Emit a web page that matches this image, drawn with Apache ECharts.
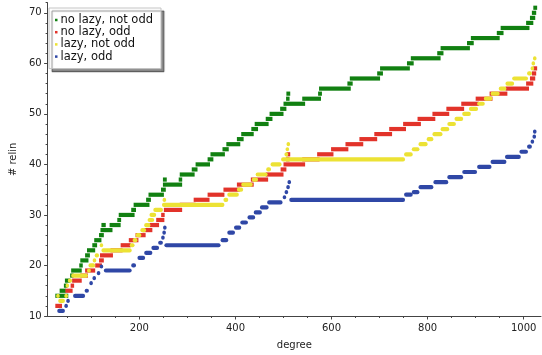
<!DOCTYPE html>
<html><head><meta charset="utf-8">
<script src="https://cdn.jsdelivr.net/npm/echarts@6/dist/echarts.min.js"></script>
<style>html,body{margin:0;padding:0;background:#fff}#c{width:542px;height:355px}</style>
</head><body><div id="c"></div>
<script>
// Each run: [first degree, last degree, # relin]
const seriesNames = ['no lazy, not odd', 'no lazy, odd', 'lazy, not odd', 'lazy, odd'];

const noLazyNotOdd = [
  [25,52,14],[34,47,15],[43,50,16],[45,56,17],[56,63,18],[58,80,19],[75,82,20],[77,94,21],
  [87,97,22],[91,108,23],[102,112,24],[106,121,25],[116,126,26],[119,144,27],[121,130,28],[138,161,28],
  [154,162,29],[157,190,30],[183,193,31],[188,221,32],[214,224,33],[219,251,34],[245,255,35],[249,289,36],
  [249,257,37],[282,289,37],[284,315,38],[309,321,39],[317,347,40],[342,354,41],[348,378,42],[373,386,43],
  [381,410,44],[403,417,45],[412,438,46],[433,447,47],[440,469,48],[463,477,49],[471,500,50],[493,506,51],
  [500,545,52],[506,512,53],[539,578,53],[506,514,54],[572,580,54],[574,640,55],[633,644,56],[638,701,57],
  [695,707,58],[701,763,59],[757,771,60],[765,827,61],[820,833,62],[827,888,63],[882,896,64],[890,950,65],
  [944,958,66],[952,1012,67],[1005,1020,68],[1013,1024,69],[1017,1026,70],[1020,1028,71]
];
const noLazyOdd = [
  [25,39,12],[46,61,15],[58,63,16],[60,80,17],[77,93,18],[87,108,19],[108,122,20],[116,126,21],
  [118,145,22],[140,165,23],[161,182,24],[178,198,25],[192,213,26],[207,227,27],[221,241,28],[235,252,29],
  [247,251,30],[251,289,31],[284,317,32],[313,346,33],[342,377,34],[375,409,35],[403,438,36],[432,468,37],
  [463,500,38],[494,506,39],[500,545,40],[506,512,41],[539,575,41],[506,514,42],[570,604,42],[599,635,43],
  [629,666,44],[658,695,45],[689,726,46],[720,755,47],[749,786,48],[779,816,49],[810,845,50],[839,876,51],
  [870,907,52],[900,935,53],[929,966,54],[962,1011,55],[1005,1020,56],[1013,1024,57],[1017,1026,58],[1020,1028,59]
];
const lazyNotOdd = [
  [31,45,13],[29,32,14],[46,49,14],[48,52,16],[51,60,17],[58,93,18],[91,99,19],[94,108,20],
  [103,110,21],[107,116,22],[121,184,23],[118,124,24],[180,190,24],[186,196,25],[192,204,26],[202,214,27],
  [210,223,28],[217,231,29],[221,235,30],[229,249,31],[247,377,32],[249,255,33],[375,385,33],[383,407,34],
  [403,416,35],[412,436,36],[434,447,37],[442,467,38],[464,474,39],[473,496,40],[495,753,41],[502,510,42],
  [751,769,42],[507,509,43],[767,783,43],[508,512,44],[781,800,44],[798,812,45],[810,831,46],[827,845,47],
  [841,859,48],[856,874,49],[872,890,50],[886,905,51],[903,919,52],[917,935,53],[931,950,54],[948,964,55],
  [962,980,56],[976,1009,57],[1007,1017,58],[1015,1021,59],[1017,1023,60],[1021,1025,61]
];
const lazyOdd = [
  [29,45,11],[45,50,12],[50,53,13],[62,87,14],[86,95,15],[97,102,16.5],[104,108,17.5],[112,118,18.5],
  [118,124,19.8],[126,184,19],[183,193,20],[196,212,21.5],[210,227,22.5],[225,241,23.5],[239,249,24.5],
  [247,251,25.5],[249,254,26.5],[251,255,27.5],[252,369,24],[369,385,25],[383,399,26.5],[397,412,27.5],
  [410,426,28.5],[425,441,29.5],[438,455,30.5],[451,469,31.5],[466,498,32.5],[500,504,33.5],[504,508,34.5],
  [508,511,35.5],[510,514,36.5],[512,753,33],[751,769,34],[767,783,34.5],[781,812,35.5],[812,843,36.5],
  [841,874,37.5],[872,903,38.5],[903,933,39.5],[931,964,40.5],[961,994,41.5],[991,1009,42.5],[1007,1017,43.5],
  [1015,1021,44.5],[1019,1025,45.5],[1021,1025,46.5]
];

const xMajorTicks = [200, 400, 600, 800, 1000];
const xMinorTicks = [50, 100, 150, 250, 300, 350, 450, 500, 550, 650, 700, 750, 850, 900, 950];
const yMajorTicks = [10, 20, 30, 40, 50, 60, 70];
const yMinorTicks = [12,14,16,18,22,24,26,28,32,34,36,38,42,44,46,48,52,54,56,58,62,64,66,68,72];

const colors = ['#118011', '#e2332a', '#ece234', '#2f47a6'];
const radii = [0, 0, 2, 2];

function runSeries(idx, runs) {
  const color = colors[idx], r = radii[idx], h = 4.2;
  return {
    name: seriesNames[idx], type: 'custom', coordinateSystem: 'cartesian2d',
    xAxisIndex: 0, yAxisIndex: 0,
    data: runs, encode: { x: [0, 1], y: 2 },
    itemStyle: { color: color },
    renderItem: function (params, api) {
      const p0 = api.coord([api.value(0), api.value(2)]);
      const p1 = api.coord([api.value(1), api.value(2)]);
      let x0 = p0[0], x1 = p1[0];
      if (x1 - x0 < 3.5) { const m = (x0 + x1) / 2; x0 = m - 1.75; x1 = m + 1.75; }
      return { type: 'rect', shape: { x: x0, y: p0[1] - h / 2, width: x1 - x0, height: h, r: r },
               style: { fill: color } };
    }
  };
}

const font = 'DejaVu Sans';
const plain = function (v) { return String(v); };
const chart = echarts.init(document.getElementById('c'), null, { renderer: 'canvas' });
const axisLineStyle = { color: '#444', width: 1 };
chart.setOption({
  animation: false,
  grid: { left: 42, right: 1, top: 2.7, bottom: 35, containLabel: false },
  legend: {
    orient: 'vertical', left: 49, top: 8,
    padding: [6, 8, 6, 6], itemGap: 0.2,
    icon: 'rect', itemWidth: 2.5, itemHeight: 2.5,
    backgroundColor: '#fff', borderColor: '#c4c4c4', borderWidth: 1,
    shadowColor: 'rgba(0,0,0,0.45)', shadowOffsetX: 3, shadowOffsetY: 3, shadowBlur: 1,
    textStyle: { fontFamily: font, fontSize: 11.5, color: '#111', lineHeight: 11, padding: [0, 0, 0, -2] },
    data: seriesNames
  },
  xAxis: [
    { type: 'value', min: 9, max: 1036, position: 'bottom',
      name: 'degree', nameLocation: 'middle', nameGap: 24,
      nameTextStyle: { fontFamily: font, fontSize: 10, color: '#222' },
      axisLine: { show: true, lineStyle: axisLineStyle },
      axisTick: { show: true, customValues: xMajorTicks, length: 3.5, lineStyle: axisLineStyle },
      axisLabel: { customValues: xMajorTicks, formatter: plain, fontFamily: font, fontSize: 10, color: '#222', margin: 7 },
      splitLine: { show: false } },
    { type: 'value', min: 9, max: 1036, position: 'bottom', gridIndex: 0,
      axisLine: { show: false },
      axisTick: { show: true, customValues: xMinorTicks, length: 2, lineStyle: axisLineStyle },
      axisLabel: { show: false }, splitLine: { show: false } }
  ],
  yAxis: [
    { type: 'value', min: 10, max: 72, position: 'left',
      name: '# relin', nameLocation: 'middle', nameGap: 28,
      nameTextStyle: { fontFamily: font, fontSize: 10, color: '#222' },
      axisLine: { show: true, lineStyle: axisLineStyle },
      axisTick: { show: true, customValues: yMajorTicks, length: 3.5, lineStyle: axisLineStyle },
      axisLabel: { customValues: yMajorTicks, formatter: plain, fontFamily: font, fontSize: 10, color: '#222', margin: 6 },
      splitLine: { show: false } },
    { type: 'value', min: 10, max: 72, position: 'left', gridIndex: 0,
      axisLine: { show: false },
      axisTick: { show: true, customValues: yMinorTicks, length: 2, lineStyle: axisLineStyle },
      axisLabel: { show: false }, splitLine: { show: false } }
  ],
  series: [
    runSeries(0, noLazyNotOdd),
    runSeries(1, noLazyOdd),
    runSeries(2, lazyNotOdd),
    runSeries(3, lazyOdd)
  ]
});
</script>
</body></html>
